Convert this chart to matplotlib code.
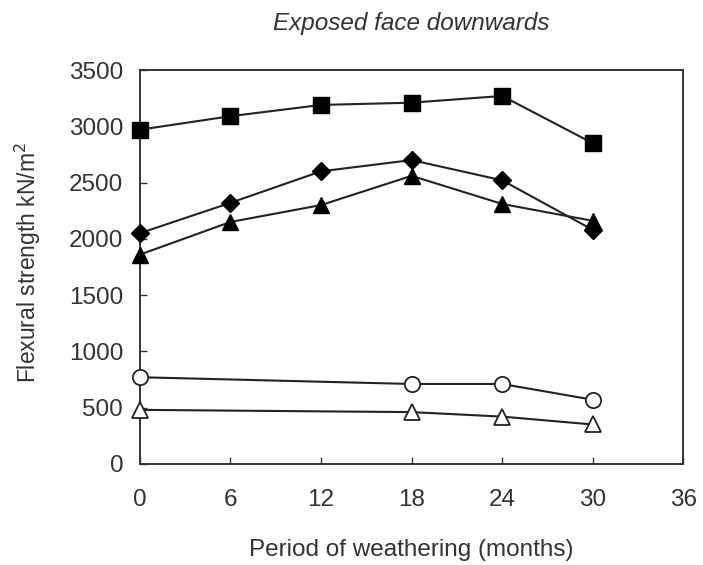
import matplotlib
matplotlib.use("Agg")
import matplotlib.pyplot as plt

plt.rcParams['font.family'] = ['Liberation Sans', 'DejaVu Sans']

months_full = [0, 6, 12, 18, 24, 30]
months_part = [0, 18, 24, 30]
squares = [2970, 3090, 3190, 3210, 3270, 2850]
diamonds = [2050, 2320, 2600, 2700, 2520, 2080]
triangles = [1860, 2150, 2300, 2560, 2310, 2160]
circles_open = [770, 710, 710, 570]
triangles_open = [480, 460, 420, 350]

xticks = [0, 6, 12, 18, 24, 30, 36]
yticks = [0, 500, 1000, 1500, 2000, 2500, 3000, 3500]

fig = plt.figure(figsize=(7.03, 5.65), dpi=100)
ax = fig.add_axes([0.199, 0.179, 0.773, 0.697])

lc = '#222222'
ax.plot(months_full, squares, color=lc, lw=1.5, marker='s', ms=12, mfc='black', mec='black', clip_on=False, zorder=3)
ax.plot(months_full, diamonds, color=lc, lw=1.5, marker='D', ms=9, mfc='black', mec='black', clip_on=False, zorder=3)
ax.plot(months_full, triangles, color=lc, lw=1.5, marker='^', ms=11, mfc='black', mec='black', clip_on=False, zorder=3)
ax.plot(months_part, circles_open, color=lc, lw=1.5, marker='o', ms=11, mfc='white', mec=lc, mew=1.3, clip_on=False, zorder=3)
ax.plot(months_part, triangles_open, color=lc, lw=1.5, marker='^', ms=11, mfc='white', mec=lc, mew=1.3, clip_on=False, zorder=3)

ax.set_xlim(0, 36)
ax.set_ylim(0, 3500)
ax.set_xticks(xticks)
ax.set_yticks(yticks)
ax.tick_params(direction='in', length=5, width=1, colors='#333333', labelsize=17.5,
               top=False, right=False)
ax.tick_params(axis='x', pad=18)
ax.tick_params(axis='y', pad=12)
for sp in ax.spines.values():
    sp.set_linewidth(1.4)
    sp.set_color('#333333')

ax.set_xlabel('Period of weathering (months)', fontsize=17.5, color='#333333', labelpad=20)
ax.set_ylabel('Flexural strength kN/m$^2$', fontsize=16.5, color='#333333')
ax.yaxis.set_label_coords(-0.178, 0.51)
ax.set_title('Exposed face downwards', fontsize=17.5, style='italic', color='#333333', pad=29)

fig.savefig('out.png', dpi=100)
